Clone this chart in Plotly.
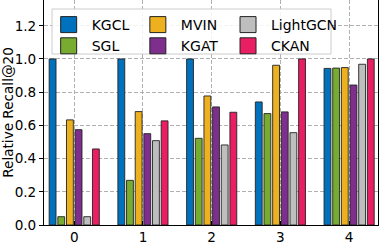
import plotly.graph_objects as go

groups = [0, 1, 2, 3, 4]
methods = ["KGCL", "SGL", "MVIN", "KGAT", "LightGCN", "CKAN"]
kgcl = [1.0, 1.0, 1.0, 0.741, 0.943]
sgl = [0.05, 0.269, 0.522, 0.671, 0.945]
mvin = [0.633, 0.683, 0.777, 0.962, 0.948]
kgat = [0.574, 0.55, 0.711, 0.681, 0.843]
lightgcn = [0.05, 0.508, 0.482, 0.556, 0.968]
ckan = [0.458, 0.627, 0.679, 1.0, 1.0]
y_ticks = [0.0, 0.2, 0.4, 0.6, 0.8, 1.0, 1.2]

values = {"KGCL": kgcl, "SGL": sgl, "MVIN": mvin, "KGAT": kgat,
          "LightGCN": lightgcn, "CKAN": ckan}
colors = {"KGCL": "#0072BD", "SGL": "#77AC30", "MVIN": "#EDB120",
          "KGAT": "#7E2F8E", "LightGCN": "#BEBEBE", "CKAN": "#E91E63"}
legend_of = {"KGCL": "legend", "SGL": "legend", "MVIN": "legend2", "KGAT": "legend2",
             "LightGCN": "legend3", "CKAN": "legend3"}

FONT = "DejaVu Sans"
fig = go.Figure()
for m in methods:
    fig.add_trace(go.Bar(x=groups, y=values[m], name=m, showlegend=False,
                         marker=dict(color=colors[m], line=dict(color="#222222", width=0.9))))
for m in methods:
    fig.add_trace(go.Scatter(x=[None], y=[None], mode="markers", name=m, legend=legend_of[m],
                             marker=dict(symbol="square", size=16, color=colors[m],
                                         line=dict(color="#222222", width=1))))

leg_common = dict(orientation="v", y=0.96, xanchor="left", yanchor="top",
                  borderwidth=0, bgcolor="rgba(0,0,0,0)", font=dict(size=14, family=FONT),
                  tracegroupgap=0, itemwidth=36)

fig.update_layout(
    width=382, height=245,
    margin=dict(l=44, r=4, t=0, b=20),
    plot_bgcolor="white", paper_bgcolor="white",
    barmode="group", bargap=0.244, bargroupgap=0.21,
    font=dict(family=FONT, size=13.6, color="black"),
    legend=dict(x=0.005, **leg_common),
    legend2=dict(x=0.272, **leg_common),
    legend3=dict(x=0.542, **leg_common),
    shapes=[dict(type="rect", xref="paper", yref="paper", layer="above",
                 x0=(52 - 44) / 334, x1=(331 - 44) / 334,
                 y0=1 - 54 / 225, y1=1 - 9 / 225,
                 line=dict(color="#cccccc", width=1),
                 fillcolor="rgba(255,255,255,0.85)")],
)
fig.update_xaxes(range=[-0.44, 4.42], tickvals=groups, ticktext=[str(g) for g in groups],
                 showgrid=True, gridcolor="#b0b0b0", griddash="4px,2px", gridwidth=0.8,
                 showline=True, linecolor="black", linewidth=1, mirror=False,
                 ticks="inside", ticklen=4, tickcolor="black", zeroline=False,
                 automargin=False)
fig.update_yaxes(range=[0, 1.355], tickvals=y_ticks, ticktext=[f"{v:.1f}" for v in y_ticks],
                 showgrid=True, gridcolor="#b0b0b0", griddash="4px,2px", gridwidth=0.8,
                 showline=True, linecolor="black", linewidth=1, mirror=True,
                 ticks="outside", ticklen=4, tickcolor="black", zeroline=False,
                 automargin=False,
                 title=dict(text="Relative Recall@20", standoff=4, font=dict(size=13.6)))
fig.write_html("out.html", config={"displayModeBar": False},
               post_script="document.body.style.margin='0';")
